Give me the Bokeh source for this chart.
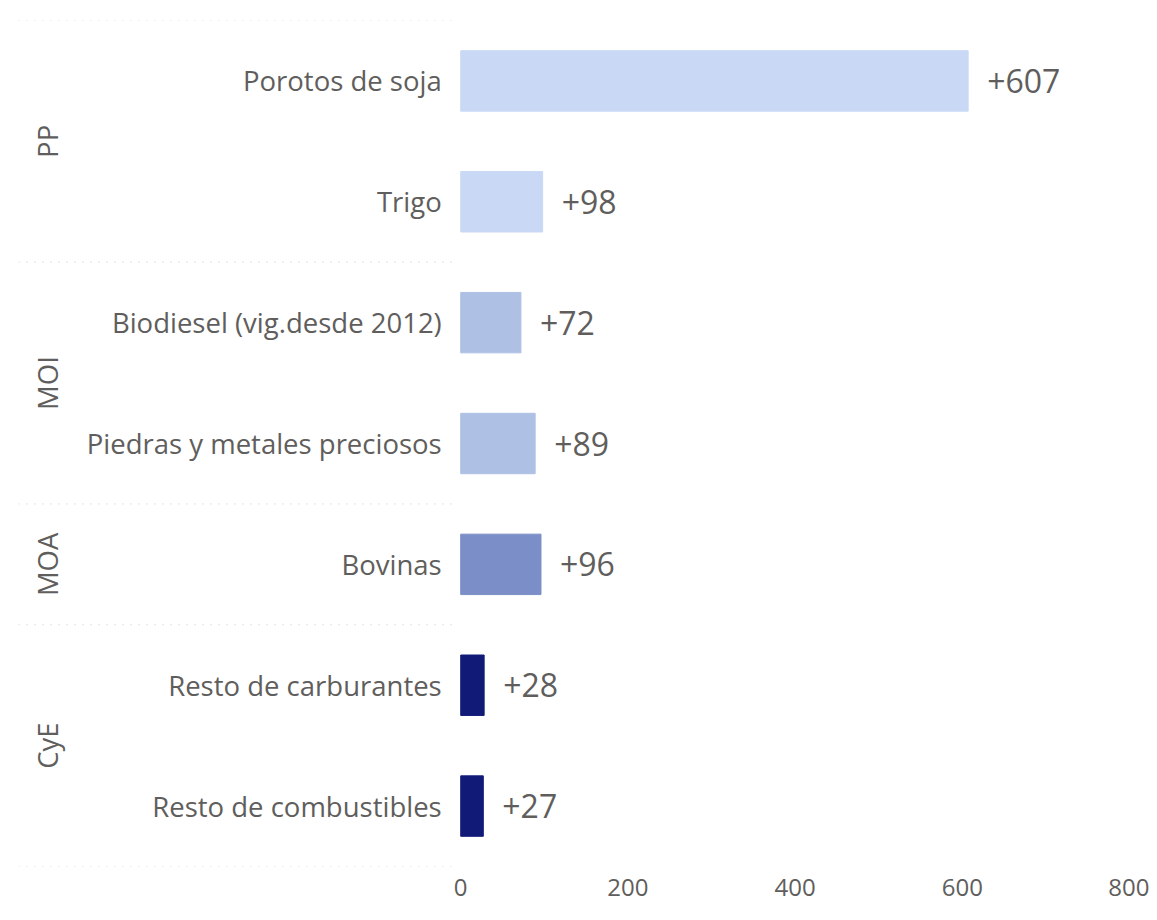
import math
from bokeh.plotting import figure
from bokeh.models import ColumnDataSource, FactorRange, Range1d, FixedTicker
from bokeh.core.properties import value
from bokeh.embed import file_html
from bokeh.resources import INLINE

# ---- data ----
groups = ["PP", "PP", "MOI", "MOI", "MOA", "CyE", "CyE"]
items = ["Porotos de soja", "Trigo", "Biodiesel (vig.desde 2012)",
         "Piedras y metales preciosos", "Bovinas",
         "Resto de carburantes", "Resto de combustibles"]
values = [607, 98, 72, 89, 96, 28, 27]
group_order = ["PP", "MOI", "MOA", "CyE"]
group_colors = {"PP": "#C9D9F5", "MOI": "#AEC0E4", "MOA": "#7B8EC7", "CyE": "#121A78"}
x_ticks = [0, 200, 400, 600, 800]

FONT = "Open Sans"
TXT = "#605E5C"
XMIN = -529
XMAX = 800

factors = [(g, it) for g, it in zip(groups, items)]
y_range = FactorRange(*list(reversed(factors)), group_padding=0, factor_padding=0,
                      subgroup_padding=0, range_padding=0)

p = figure(width=1149, height=912, y_range=y_range, x_range=Range1d(XMIN, XMAX),
           output_backend="svg", toolbar_location=None, y_axis_location=None,
           min_border_left=18, min_border_right=20, min_border_top=20,
           min_border_bottom=46)
p.outline_line_color = None
p.xgrid.visible = False
p.ygrid.visible = False

src = ColumnDataSource(dict(
    y=factors, v=values, item=items,
    color=[group_colors[g] for g in groups],
    lbl=["+%d" % v for v in values],
    zero=[0] * len(values),
))

p.hbar(y="y", left=0, right="v", height=0.5, color="color", source=src)

# value labels
p.text(x="v", y="y", text="lbl", source=src, x_offset=19, text_align="left",
       text_baseline="middle", text_font=value(FONT), text_font_size="32px",
       text_color=TXT)

# category labels
p.text(x="zero", y="y", text="item", source=src, x_offset=-19, text_align="right",
       text_baseline="middle", text_font=value(FONT), text_font_size="27.5px",
       text_color=TXT)

# group labels (rotated)
gsrc = ColumnDataSource(dict(y=group_order, t=group_order, x=[XMIN] * len(group_order)))
p.text(x="x", y="y", text="t", source=gsrc, x_offset=29, angle=math.pi / 2,
       text_align="center", text_baseline="middle", text_font=value(FONT),
       text_font_size="27.5px", text_color=TXT)

# dotted separators: top of each group, plus bottom of the last
sep_y = []
for g in group_order:
    first = [it for gg, it in factors if gg == g][0]
    sep_y.append([g, first, 0.5])
last_g, last_it = factors[-1]
sep_y.append([last_g, last_it, -0.5])
ssrc = ColumnDataSource(dict(x0=[XMIN] * len(sep_y), x1=[-9.5] * len(sep_y), y=sep_y))
p.segment(x0="x0", x1="x1", y0="y", y1="y", source=ssrc, line_color="#C4C4C4",
          line_width=1, line_dash="1 7")

# x axis
ax = p.xaxis[0]
ax.ticker = FixedTicker(ticks=x_ticks)
ax.axis_line_color = None
ax.major_tick_line_color = None
ax.minor_tick_line_color = None
ax.major_tick_out = 0
ax.major_tick_in = 0
ax.major_label_standoff = 12
ax.major_label_text_font = FONT
ax.major_label_text_font_size = "24px"
ax.major_label_text_color = TXT

open("out.html", "w").write(file_html(p, INLINE))
